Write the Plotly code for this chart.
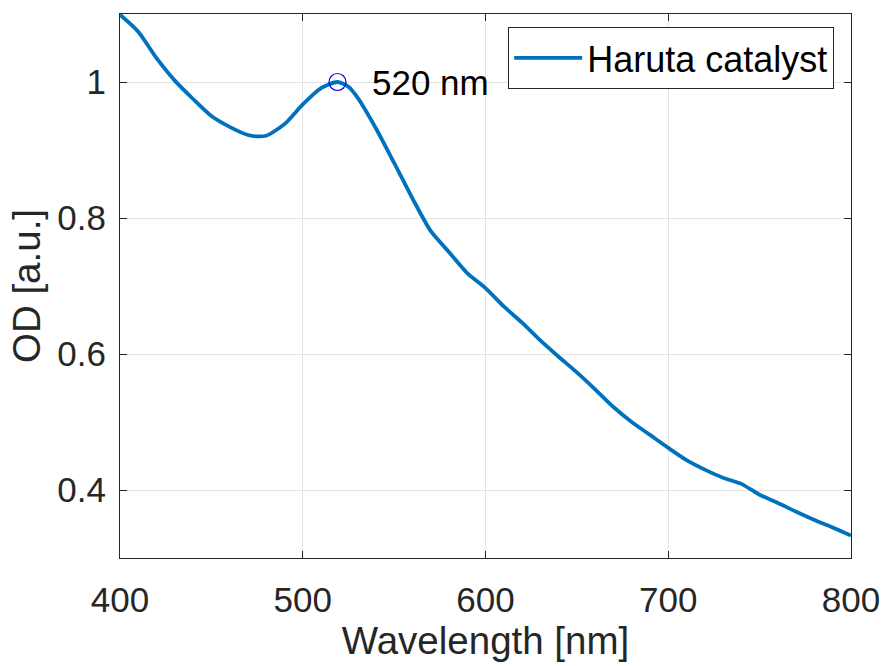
import plotly.graph_objects as go

# Data
wavelength_nm = [400, 410, 420, 430, 440, 450, 460, 470, 475, 480, 490, 500, 510, 519, 525, 530,
                 540, 550, 560, 570, 580, 590, 600, 610, 620, 630, 640, 650, 660, 670, 680,
                 690, 700, 710, 720, 730, 740, 750, 760, 770, 780, 790, 800]
od_values = [1.099, 1.074, 1.035, 1.002, 0.975, 0.950, 0.934, 0.922, 0.920, 0.921, 0.938, 0.967,
             0.991, 1.000, 0.993, 0.977, 0.932, 0.881, 0.829, 0.781, 0.750, 0.719, 0.697, 0.670,
             0.646, 0.620, 0.596, 0.573, 0.548, 0.522, 0.500, 0.481, 0.462, 0.444, 0.430,
             0.418, 0.409, 0.393, 0.381, 0.368, 0.356, 0.345, 0.333]
peak_x = [519]
peak_y = [1.0]
peak_label = "520 nm"
series_name = "Haruta catalyst"
x_ticks = [400, 500, 600, 700, 800]
y_ticks = [0.4, 0.6, 0.8, 1.0]
y_tick_text = ["0.4", "0.6", "0.8", "1"]

FONT = "Liberation Sans, Arial, Helvetica, sans-serif"
AXC = "#262626"

fig = go.Figure()
fig.add_trace(go.Scatter(
    x=wavelength_nm, y=od_values, mode="lines", name=series_name,
    line=dict(color="#0072BD", width=3.8, shape="spline", smoothing=0.7),
))
fig.add_trace(go.Scatter(
    x=peak_x, y=peak_y, mode="markers", showlegend=False,
    marker=dict(symbol="circle-open", size=17, color="#0000FF", line=dict(width=1.2, color="#0000FF")),
))
fig.add_annotation(
    x=536.6, y=peak_y[0], text=peak_label, showarrow=False, xanchor="left", yanchor="middle",
    font=dict(family=FONT, size=35, color="#000000"),
)

axis_common = dict(
    showline=True, linecolor=AXC, linewidth=1, mirror="ticks",
    ticks="inside", ticklen=7, tickwidth=1, tickcolor=AXC,
    showgrid=True, gridcolor="#e3e3e3", gridwidth=1, zeroline=False,
    tickfont=dict(family=FONT, size=35, color=AXC), automargin=False,
)

fig.update_layout(
    width=884, height=666,
    margin=dict(l=120, r=33, t=14, b=108, autoexpand=False),
    paper_bgcolor="white", plot_bgcolor="white",
    font=dict(family=FONT, color=AXC),
    xaxis=dict(range=[400, 800], tickvals=x_ticks, ticklabelstandoff=11,
               title=dict(text="Wavelength [nm]", font=dict(family=FONT, size=38.5, color=AXC), standoff=6),
               **axis_common),
    yaxis=dict(range=[0.3, 1.1], tickvals=y_ticks, ticktext=y_tick_text, ticklabelstandoff=6,
               title=dict(text="OD [a.u.]", font=dict(family=FONT, size=38.5, color=AXC), standoff=4),
               **axis_common),
    legend=dict(x=0.977, y=0.976, xanchor="right", yanchor="top",
                bgcolor="white", bordercolor=AXC, borderwidth=1, itemwidth=68,
                font=dict(family=FONT, size=36, color="#000000")),
    showlegend=True,
)

fig.write_html("out.html")
